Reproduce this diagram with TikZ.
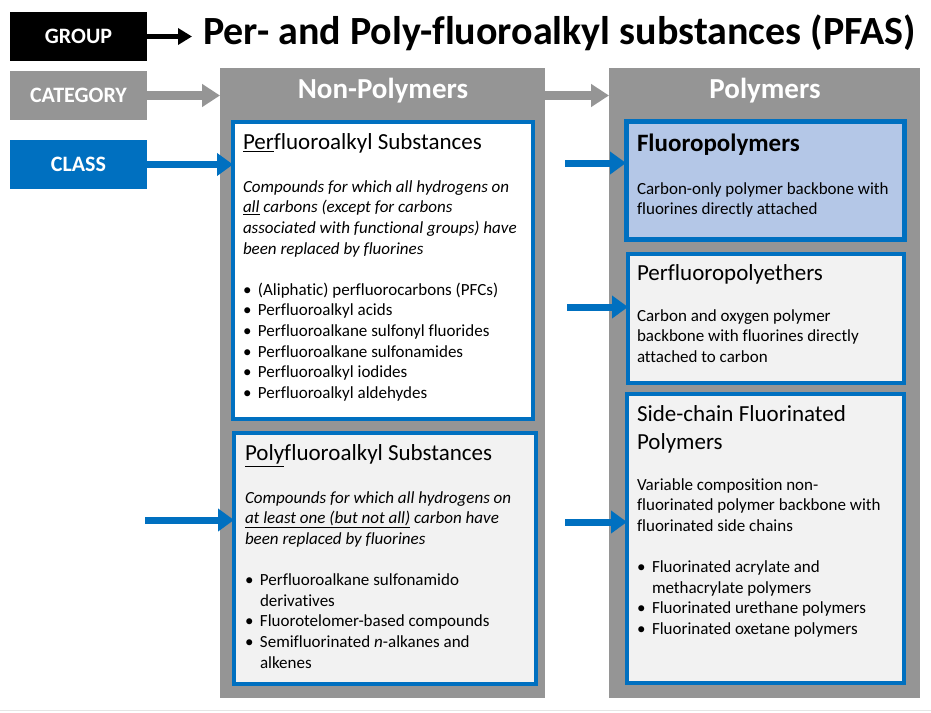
\documentclass[tikz,border=0pt]{standalone}
\usepackage{fontspec}
\setmainfont{Carlito}[Ligatures=NoCommon]
\usetikzlibrary{arrows.meta}
\definecolor{pblue}{HTML}{0070C0}
\definecolor{pgray}{HTML}{959595}
\definecolor{plight}{HTML}{F2F2F2}
\definecolor{pfluo}{HTML}{B4C7E7}
\newcommand{\bul}{\makebox[15pt][l]{\textbullet}}
\newcommand{\ind}{\hspace*{15pt}}
\begin{document}
\begin{tikzpicture}[x=1pt,y=-1pt,
  every node/.style={inner sep=0pt, outer sep=0pt},
  labelbox/.style={anchor=north west, minimum width=137pt, minimum height=49pt, text=white, font=\bfseries\fontsize{22}{24}\selectfont},
  panel/.style={anchor=north west, fill=pgray},
  classbox/.style={anchor=north west, draw=pblue, line width=3.5pt, fill=plight},
  bodytext/.style={anchor=north west, align=left, font=\fontsize{17}{20.6}\selectfont},
  headtext/.style={anchor=north west, align=left, font=\fontsize{23}{27.5}\selectfont},
  paneltitle/.style={text=white, font=\bfseries\fontsize{29}{33}\selectfont},
  blackarrow/.style={draw=black, line width=5pt, -{Triangle[length=14pt,width=16pt]}},
  grayarrow/.style={draw=pgray, line width=9pt, -{Triangle[length=18pt,width=22pt]}},
  bluearrow/.style={draw=pblue, line width=7pt, -{Triangle[length=16pt,width=22pt]}}
]
\useasboundingbox (0,0) rectangle (931,712);
\fill[white] (0,0) rectangle (931,712);
\draw[gray!20, line width=1pt] (0,710.5) -- (931,710.5);

% left labels
\node[labelbox, fill=black] (group) at (10,12) {GROUP};
\node[labelbox, fill=pgray] (cat) at (10,71) {CATEGORY};
\node[labelbox, fill=pblue] (cls) at (10,140) {CLASS};

% title
\node[anchor=west, font=\bfseries\fontsize{40}{46}\selectfont] (title) at (203,33) {Per- and Poly-fluoroalkyl substances (PFAS)};

% panels
\node[panel, minimum width=325pt, minimum height=630pt] (nonpoly) at (220,68) {};
\node[panel, minimum width=311pt, minimum height=630pt] (poly) at (609,68) {};
\node[paneltitle] (nonpolyt) at (383,91) {Non-Polymers};
\node[paneltitle] (polyt) at (765,91) {Polymers};

% class boxes
\node[classbox, fill=white, minimum width=300pt, minimum height=297pt] (perf) at (233,122) {};
\node[classbox, minimum width=302pt, minimum height=251pt] (polyf) at (234,433) {};
\node[classbox, fill=pfluo, line width=5pt, minimum width=278pt, minimum height=118pt] (fluoro) at (626,121) {};
\node[classbox, minimum width=276pt, minimum height=129pt] (pfpe) at (628,254) {};
\node[classbox, minimum width=277pt, minimum height=289pt] (side) at (627,394) {};

% texts: perfluoroalkyl
\node[headtext] (perfh) at (243,134) {\underline{Per}fluoroalkyl Substances};
\node[bodytext] (perfb) at (243,180.5) {\itshape Compounds for which all hydrogens on\\
\itshape \underline{all} carbons (except for carbons\\
\itshape associated with functional groups) have\\
\itshape been replaced by fluorines\\[20.6pt]
\bul(Aliphatic) perfluorocarbons (PFCs)\\
\bul Perfluoroalkyl acids\\
\bul Perfluoroalkane sulfonyl fluorides\\
\bul Perfluoroalkane sulfonamides\\
\bul Perfluoroalkyl iodides\\
\bul Perfluoroalkyl aldehydes};

% polyfluoroalkyl
\node[headtext] (polyh) at (245,445) {\underline{Poly}fluoroalkyl Substances};
\node[bodytext] (polyb) at (245,491.5) {\itshape Compounds for which all hydrogens on\\
\itshape \underline{at least one (but not all)} carbon have\\
\itshape been replaced by fluorines\\[20.6pt]
\bul Perfluoroalkane sulfonamido\\
\ind derivatives\\
\bul Fluorotelomer-based compounds\\
\bul Semifluorinated \textit{n}-alkanes and\\
\ind alkenes};

% fluoropolymers
\node[headtext, font=\bfseries\fontsize{25}{30}\selectfont] (fluoroh) at (637,134) {Fluoropolymers};
\node[bodytext] (fluorob) at (637,182.5) {Carbon-only polymer backbone with\\
fluorines directly attached};

% perfluoropolyethers
\node[headtext] (pfpeh) at (637,265) {Perfluoropolyethers};
\node[bodytext] (pfpeb) at (637,309.5) {Carbon and oxygen polymer\\
backbone with fluorines directly\\
attached to carbon};

% side-chain
\node[headtext] (sideh) at (637,406) {Side-chain Fluorinated\\Polymers};
\node[bodytext] (sideb) at (637,478.5) {Variable composition non-\\
fluorinated polymer backbone with\\
fluorinated side chains\\[20.6pt]
\bul Fluorinated acrylate and\\
\ind methacrylate polymers\\
\bul Fluorinated urethane polymers\\
\bul Fluorinated oxetane polymers};

% arrows
\draw[blackarrow, shorten >=11pt] (group.east) -- (title.west |- group.east);
\draw[grayarrow] (cat.east) -- (nonpoly.west |- cat.east);
\draw[grayarrow] (nonpoly.east |- cat.east) -- (poly.west |- cat.east);
\draw[bluearrow] (cls.east) -- (perf.west |- cls.east);
\coordinate (a2) at (145,520);
\draw[bluearrow] (a2) -- (polyf.west |- a2);
\coordinate (a3) at (565,163);
\draw[bluearrow] (a3) -- (fluoro.west |- a3);
\coordinate (a4) at (567,307);
\draw[bluearrow] (a4) -- (pfpe.west |- a4);
\coordinate (a5) at (565,522);
\draw[bluearrow] (a5) -- (side.west |- a5);
\end{tikzpicture}
\end{document}
